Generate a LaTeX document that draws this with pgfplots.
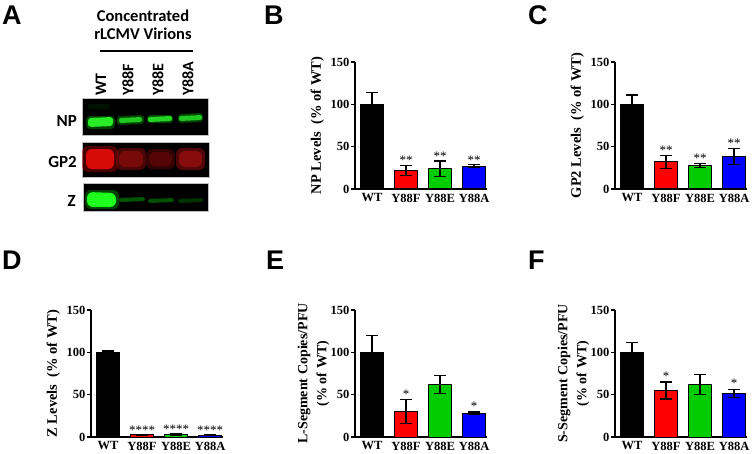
\documentclass[border=0pt]{standalone}
\usepackage{pgfplots}
\pgfplotsset{compat=1.18}
\usepackage{fontspec}
\setmainfont{Liberation Serif}
\newfontfamily\lsans{Liberation Sans}
\newfontfamily\carl{Carlito}

\definecolor{barred}{RGB}{255,0,0}
\definecolor{bargreen}{RGB}{0,204,0}
\definecolor{barblue}{RGB}{0,0,255}
\definecolor{npgreen}{RGB}{40,235,40}
\definecolor{glowgreen}{RGB}{0,150,0}
\definecolor{redglow}{RGB}{150,0,0}
\definecolor{redA}{RGB}{215,10,10}
\definecolor{redB}{RGB}{120,10,10}
\definecolor{redC}{RGB}{85,5,5}
\definecolor{redD}{RGB}{135,12,12}
\definecolor{zA}{RGB}{30,255,30}
\definecolor{zB}{RGB}{0,85,0}
\definecolor{zC}{RGB}{0,80,0}
\definecolor{zD}{RGB}{0,50,0}

\tikzset{sig/.style={font=\fontsize{13}{13}\selectfont, anchor=base, inner sep=0pt}}

\pgfplotsset{
 panel/.style={
  scale only axis, width=132pt, height=127pt, anchor=south west,
  xmin=-0.5, xmax=3.38, ymin=0, ymax=150,
  axis x line*=bottom, axis y line*=left,
  axis line style={line width=1.3pt,-},
  ytick={0,50,100,150}, xtick={0,1,2,3}, xticklabels={WT,Y88F,Y88E,Y88A},
  xtick style={draw=none}, ytick style={line width=1.3pt, black},
  tick align=outside, major tick length=4pt,
  /pgf/number format/assume math mode=true,
  tick label style={font=\fontsize{12.5}{12.5}\selectfont\bfseries},
  xticklabel style={inner sep=0.5pt, yshift=0pt},
  yticklabel style={inner sep=1.5pt},
  every axis y label/.style={at={(axis description cs:-0.285,0.5)}, rotate=90, anchor=center, font=\fontsize{14.5}{20}\selectfont\bfseries, align=center},
  clip=false,
 },
 twoline/.style={every axis y label/.append style={at={(axis description cs:-0.315,0.5)}, font=\fontsize{14}{19}\selectfont\bfseries}},
 bar/.style={ybar, bar width=23pt, bar shift=0pt, draw=black, line width=1pt, fill=#1,
   error bars/.cd, y dir=both, y explicit, error bar style={line width=1.2pt, black}, error mark options={rotate=90, mark size=6pt, line width=1.2pt, black}},
 blot/.style={draw=gray!50, line width=0.6pt, fill=black},
 band/.style={draw=none, fill=#1},
}

\begin{document}
\begin{tikzpicture}[x=1pt,y=1pt]
\useasboundingbox (0,0) rectangle (752,453);

% ---------- Panel A: blot ----------
\begin{axis}[at={(0pt,0pt)}, anchor=south west, scale only axis, width=752pt, height=453pt,
  xmin=0, xmax=752, ymin=0, ymax=453, y dir=reverse, hide axis, clip=false]
\addplot[blot] coordinates {(82,98) (208,98) (208,135) (82,135)} -- cycle;
\addplot[blot] coordinates {(82,142) (209,142) (209,177) (82,177)} -- cycle;
\addplot[blot] coordinates {(83,183) (208,183) (208,211) (83,211)} -- cycle;
% NP bands
\addplot[band=glowgreen, opacity=0.12, rounded corners=2pt] coordinates {(88,104) (110,104) (110,109) (88,109)} -- cycle;
\addplot[band=glowgreen, opacity=0.45, rounded corners=4pt] coordinates {(86,116) (115,116) (115,129) (86,129)} -- cycle;
\addplot[band=npgreen, rounded corners=3pt] coordinates {(88,118) (113,117) (113,126) (88,127)} -- cycle;
\addplot[band=glowgreen, opacity=0.45, rounded corners=3pt] coordinates {(117,116) (144,115) (144,124) (117,125)} -- cycle;
\addplot[band=npgreen!85!black, rounded corners=2pt] coordinates {(119,118) (142,117) (142,122) (119,123)} -- cycle;
\addplot[band=glowgreen, opacity=0.45, rounded corners=3pt] coordinates {(147,115) (173,115) (173,123) (147,123)} -- cycle;
\addplot[band=npgreen!90!black, rounded corners=2pt] coordinates {(148,117) (172,116) (172,121) (148,122)} -- cycle;
\addplot[band=glowgreen, opacity=0.45, rounded corners=3pt] coordinates {(178,114) (203,113) (203,122) (178,123)} -- cycle;
\addplot[band=npgreen!85!black, rounded corners=2pt] coordinates {(179,116) (202,115) (202,120) (179,121)} -- cycle;
% GP2 bands
\addplot[band=redglow, opacity=0.5, rounded corners=6pt] coordinates {(82,146) (118,146) (118,172) (82,172)} -- cycle;
\addplot[band=redA, rounded corners=6pt] coordinates {(86,149) (114,149) (114,169) (86,169)} -- cycle;
\addplot[band=redB, opacity=0.6, rounded corners=6pt] coordinates {(116,148) (146,148) (146,170) (116,170)} -- cycle;
\addplot[band=redB, rounded corners=6pt] coordinates {(119,151) (143,151) (143,167) (119,167)} -- cycle;
\addplot[band=redC, opacity=0.6, rounded corners=6pt] coordinates {(146,149) (175,149) (175,169) (146,169)} -- cycle;
\addplot[band=redC, rounded corners=6pt] coordinates {(149,152) (172,152) (172,166) (149,166)} -- cycle;
\addplot[band=redD, opacity=0.6, rounded corners=6pt] coordinates {(176,148) (205,148) (205,170) (176,170)} -- cycle;
\addplot[band=redD, rounded corners=6pt] coordinates {(179,151) (202,151) (202,167) (179,167)} -- cycle;
% Z bands
\addplot[band=glowgreen, opacity=0.45, rounded corners=6pt] coordinates {(85,190) (119,190) (119,209) (85,209)} -- cycle;
\addplot[band=zA, rounded corners=6pt] coordinates {(87,192) (116,193) (116,207) (87,207)} -- cycle;
\addplot[band=zB, rounded corners=2pt] coordinates {(119,198) (145,197) (145,201) (119,202)} -- cycle;
\addplot[band=zC, rounded corners=2pt] coordinates {(148,199) (174,198) (174,202) (148,203)} -- cycle;
\addplot[band=zD, rounded corners=2pt] coordinates {(178,199) (203,198) (203,202) (178,203)} -- cycle;
% title line
\addplot[black, line width=1.2pt] coordinates {(100,51) (193,51)};
\node[font=\carl\bfseries\fontsize{16.5}{16.5}\selectfont] at (axis cs:143,16) {Concentrated};
\node[font=\carl\bfseries\fontsize{16.5}{16.5}\selectfont] at (axis cs:143,34) {rLCMV Virions};
\node[rotate=90, anchor=west, inner sep=0pt, font=\carl\bfseries\fontsize{16}{16}\selectfont] at (axis cs:101,96) {WT};
\node[rotate=90, anchor=west, inner sep=0pt, font=\carl\bfseries\fontsize{16}{16}\selectfont] at (axis cs:128,96) {Y88F};
\node[rotate=90, anchor=west, inner sep=0pt, font=\carl\bfseries\fontsize{16}{16}\selectfont] at (axis cs:158,96) {Y88E};
\node[rotate=90, anchor=west, inner sep=0pt, font=\carl\bfseries\fontsize{16}{16}\selectfont] at (axis cs:188,96) {Y88A};
\node[anchor=east, inner sep=0pt, font=\carl\bfseries\fontsize{17}{17}\selectfont] at (axis cs:77,121) {NP};
\node[anchor=east, inner sep=0pt, font=\carl\bfseries\fontsize{17}{17}\selectfont] at (axis cs:77,162) {GP2};
\node[anchor=east, inner sep=0pt, font=\carl\bfseries\fontsize{17}{17}\selectfont] at (axis cs:76,201) {Z};
\end{axis}

% ---------- Panel B ----------
\begin{axis}[panel, at={(355pt,264pt)}, ylabel={NP Levels~~(\% of WT)}]
\addplot[bar=black] coordinates {(0,100) +- (0,14)};
\addplot[bar=barred] coordinates {(1,22) +- (0,6)};
\addplot[bar=bargreen] coordinates {(2,24) +- (0,9)};
\addplot[bar=barblue] coordinates {(3,27) +- (0,1.5)};
\node[sig] at (axis cs:1,29) {**};
\node[sig] at (axis cs:2,34) {**};
\node[sig] at (axis cs:3,29.5) {**};
\end{axis}

% ---------- Panel C ----------
\begin{axis}[panel, at={(615pt,264pt)}, ylabel={GP2 Levels~~(\% of WT)}]
\addplot[bar=black] coordinates {(0,100) +- (0,11)};
\addplot[bar=barred] coordinates {(1,32) +- (0,7.5)};
\addplot[bar=bargreen] coordinates {(2,28) +- (0,2.5)};
\addplot[bar=barblue] coordinates {(3,38) +- (0,9.5)};
\node[sig] at (axis cs:1,40.5) {**};
\node[sig] at (axis cs:2,31.5) {**};
\node[sig] at (axis cs:3,48.5) {**};
\end{axis}

% ---------- Panel D ----------
\begin{axis}[panel, at={(91pt,16pt)}, ylabel={Z Levels~~(\% of WT)}]
\addplot[bar=black] coordinates {(0,100) +- (0,1.5)};
\addplot[bar=barred] coordinates {(1,2.5) +- (0,0.5)};
\addplot[bar=bargreen] coordinates {(2,3) +- (0,0.7)};
\addplot[bar=barblue] coordinates {(3,2) +- (0,0.5)};
\node[sig] at (axis cs:1,3.5) {****};
\node[sig] at (axis cs:2,4) {****};
\node[sig] at (axis cs:3,3) {****};
\end{axis}

% ---------- Panel E ----------
\begin{axis}[panel, twoline, at={(355pt,16pt)}, ylabel={L-Segment Copies/PFU\\(\% of WT)}]
\addplot[bar=black] coordinates {(0,100) +- (0,20)};
\addplot[bar=barred] coordinates {(1,30) +- (0,14.5)};
\addplot[bar=bargreen] coordinates {(2,62) +- (0,10.5)};
\addplot[bar=barblue] coordinates {(3,28) +- (0,1.5)};
\node[sig] at (axis cs:1,46) {*};
\node[sig] at (axis cs:3,31) {*};
\end{axis}

% ---------- Panel F ----------
\begin{axis}[panel, twoline, at={(615pt,16pt)}, ylabel={S-Segment Copies/PFU\\(\% of WT)}]
\addplot[bar=black] coordinates {(0,100) +- (0,11.5)};
\addplot[bar=barred] coordinates {(1,55) +- (0,10)};
\addplot[bar=bargreen] coordinates {(2,62) +- (0,12)};
\addplot[bar=barblue] coordinates {(3,51.5) +- (0,5)};
\node[sig] at (axis cs:1,66.5) {*};
\node[sig] at (axis cs:3,58) {*};
\end{axis}

% ---------- Panel letters ----------
\begin{scope}[every node/.style={font=\lsans\bfseries\fontsize{27}{27}\selectfont, anchor=base west, inner sep=0pt}]
\node at (2,428) {A};
\node at (264,428) {B};
\node at (528,428) {C};
\node at (2,184) {D};
\node at (266,184) {E};
\node at (528,184) {F};
\end{scope}
\end{tikzpicture}
\end{document}
